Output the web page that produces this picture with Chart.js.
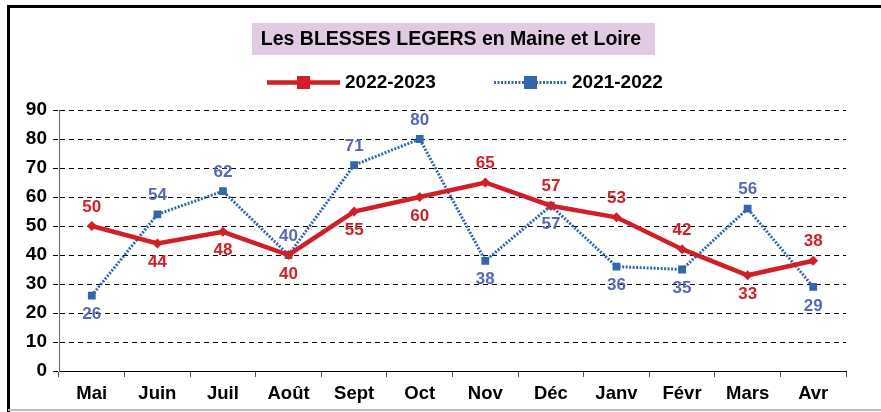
<!DOCTYPE html>
<html>
<head>
<meta charset="utf-8">
<script src="https://cdn.jsdelivr.net/npm/chart.js@4/dist/chart.umd.min.js"></script>
<style>
  html, body { margin: 0; padding: 0; background: #fff; }
  #wrap { width: 881px; height: 412px; position: relative; }
</style>
</head>
<body>
<div id="wrap"><canvas id="chart" width="881" height="412"></canvas></div>
<script>
const months = ['Mai', 'Juin', 'Juil', 'Août', 'Sept', 'Oct', 'Nov', 'Déc', 'Janv', 'Févr', 'Mars', 'Avr'];
const s2223 = [50, 44, 48, 40, 55, 60, 65, 57, 53, 42, 33, 38];
const s2122 = [26, 54, 62, 40, 71, 80, 38, 57, 36, 35, 56, 29];
// label side: 1 = above, -1 = below
const side2223 = [1, -1, -1, -1, -1, -1, 1, 1, 1, 1, -1, 1];
const side2122 = [-1, 1, 1, 1, 1, 1, -1, -1, -1, -1, 1, -1];
const yTicks = [0, 10, 20, 30, 40, 50, 60, 70, 80, 90];

const RED = '#D01F27';
const BLUE = '#3366AA';
const BLUE_TXT = '#5868B4';
const FONT = '"Liberation Sans", Arial, sans-serif';

// frame, title box, legend
const decor = {
  id: 'decor',
  beforeDraw(chart) {
    const ctx = chart.ctx;
    ctx.save();
    ctx.fillStyle = '#fff';
    ctx.fillRect(0, 0, 881, 412);
    // frame
    ctx.strokeStyle = '#000';
    ctx.lineWidth = 3;
    ctx.beginPath();
    ctx.moveTo(8.5, 412);
    ctx.lineTo(8.5, 6.5);
    ctx.lineTo(881, 6.5);
    ctx.stroke();
    ctx.strokeStyle = '#bbb';
    ctx.lineWidth = 2;
    ctx.beginPath();
    ctx.moveTo(8, 410);
    ctx.lineTo(881, 410);
    ctx.stroke();
    // title
    ctx.fillStyle = '#E0CBE3';
    ctx.fillRect(252, 23, 403, 32);
    ctx.fillStyle = '#000';
    ctx.font = 'bold 19.5px ' + FONT;
    ctx.textAlign = 'center';
    ctx.textBaseline = 'middle';
    ctx.fillText('Les BLESSES LEGERS en Maine et Loire', 451, 40);
    // legend
    ctx.font = 'bold 19px ' + FONT;
    ctx.textAlign = 'left';
    ctx.strokeStyle = RED;
    ctx.lineWidth = 4.5;
    ctx.beginPath();
    ctx.moveTo(267, 82.5); ctx.lineTo(340, 82.5);
    ctx.stroke();
    ctx.fillStyle = RED;
    ctx.fillRect(297, 76, 13, 13);
    ctx.fillStyle = '#000';
    ctx.fillText('2022-2023', 345, 83);
    ctx.strokeStyle = BLUE;
    ctx.lineWidth = 3;
    ctx.setLineDash([2, 1.5]);
    ctx.beginPath();
    ctx.moveTo(494, 82.5); ctx.lineTo(567, 82.5);
    ctx.stroke();
    ctx.setLineDash([]);
    ctx.fillStyle = BLUE;
    ctx.fillRect(524, 76, 13, 13);
    ctx.fillStyle = '#000';
    ctx.fillText('2021-2022', 572, 83);
    ctx.restore();
  }
};

// value labels next to each point
const valueLabels = {
  id: 'valueLabels',
  afterDatasetsDraw(chart) {
    const ctx = chart.ctx;
    const sides = [side2223, side2122];
    const colors = [RED, BLUE_TXT];
    ctx.save();
    ctx.font = 'bold 17px ' + FONT;
    ctx.textAlign = 'center';
    ctx.textBaseline = 'middle';
    chart.data.datasets.forEach((ds, i) => {
      const meta = chart.getDatasetMeta(i);
      ctx.fillStyle = colors[i];
      meta.data.forEach((pt, j) => {
        ctx.fillText(String(ds.data[j]), pt.x, pt.y - sides[i][j] * 19);
      });
    });
    ctx.restore();
  }
};

new Chart(document.getElementById('chart').getContext('2d'), {
  type: 'line',
  data: {
    labels: months,
    datasets: [
      {
        label: '2022-2023',
        data: s2223,
        borderColor: RED,
        backgroundColor: RED,
        borderWidth: 4.5,
        pointStyle: 'rectRot',
        pointRadius: 5,
        pointBorderWidth: 0,
        tension: 0
      },
      {
        label: '2021-2022',
        data: s2122,
        borderColor: BLUE,
        backgroundColor: BLUE,
        borderWidth: 3,
        borderDash: [2, 1.5],
        pointStyle: 'rect',
        pointRadius: 5.5,
        pointBorderWidth: 0,
        tension: 0
      }
    ]
  },
  options: {
    responsive: false,
    animation: false,
    layout: { padding: { left: 0, top: 110, right: 35, bottom: 0 } },
    plugins: {
      legend: { display: false },
      title: { display: false },
      tooltip: { enabled: false }
    },
    scales: {
      x: {
        offset: true,
        grid: {
          offset: true,
          drawOnChartArea: false,
          drawTicks: true,
          tickLength: 6,
          tickColor: '#555',
          color: '#555'
        },
        border: { color: '#000', width: 1 },
        ticks: {
          color: '#000',
          padding: 6,
          font: { family: FONT, size: 18.5, weight: 'bold' },
          maxRotation: 0
        },
        afterFit(scale) { scale.height = 41; }
      },
      y: {
        min: 0,
        max: 90,
        afterBuildTicks(scale) { scale.ticks = yTicks.map(v => ({ value: v })); },
        grid: {
          color: '#000',
          lineWidth: 1,
          tickLength: 6,
          tickBorderDash: [5, 4],
          tickColor: '#000'
        },
        border: { color: '#666', width: 1, dash: [5, 4] },
        ticks: {
          color: '#000',
          padding: 6,
          font: { family: FONT, size: 19, weight: 'bold' }
        },
        afterFit(scale) { scale.width = 59; }
      }
    }
  },
  plugins: [decor, valueLabels]
});
</script>
</body>
</html>
